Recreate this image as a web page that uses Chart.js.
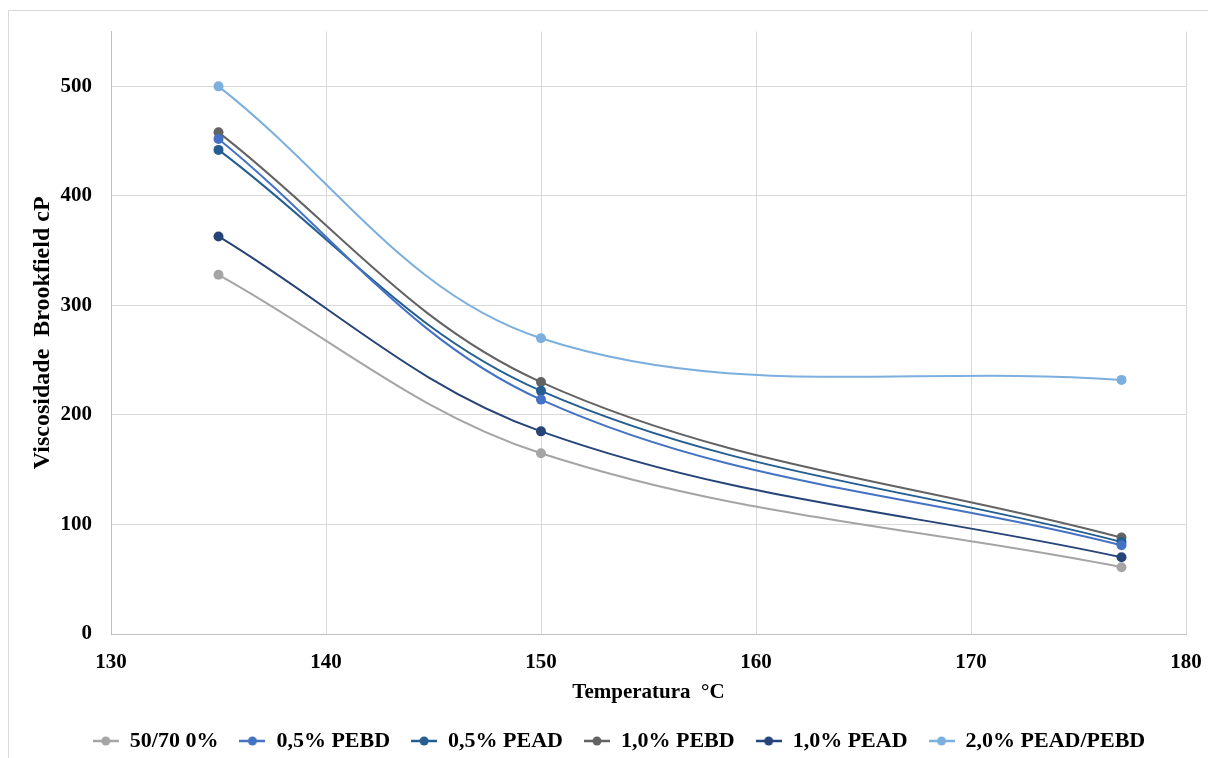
<!DOCTYPE html>
<html><head><meta charset="utf-8">
<script src="https://cdn.jsdelivr.net/npm/chart.js@4"></script>
<style>
html,body{margin:0;padding:0;background:#fff;}
#wrap{position:absolute;left:0;top:0;width:1208px;height:758px;}
#frame{position:absolute;left:8px;top:10px;width:1210px;height:760px;border:1px solid #d9d9d9;box-sizing:border-box;}
canvas{position:absolute;left:0;top:0;}
</style></head><body>
<div id="wrap"><div id="frame"></div><canvas id="c" width="1208" height="758"></canvas></div>
<script>
const temperatures = [135, 150, 177];
const seriesNames = ["50/70 0%", "0,5% PEBD", "0,5% PEAD", "1,0% PEBD", "1,0% PEAD", "2,0% PEAD/PEBD"];
const s5070 = [328, 165, 61];
const pebd05 = [452, 214, 81];
const pead05 = [442, 222, 84];
const pebd10 = [458, 230, 88];
const pead10 = [363, 185, 70];
const mix20 = [500, 270, 232];
const xTicks = [130, 140, 150, 160, 170, 180];
const yTicks = [0, 100, 200, 300, 400, 500];
const colors = ["#A5A5A5", "#4472C4", "#255E91", "#636363", "#264478", "#7CAFDD"];
const allSeries = [s5070, pebd05, pead05, pebd10, pead10, mix20];

function legendIcon(col){
  const cv = document.createElement('canvas');
  cv.width = 26; cv.height = 12;
  const g = cv.getContext('2d');
  g.strokeStyle = col; g.lineWidth = 2.5;
  g.beginPath(); g.moveTo(0,6); g.lineTo(26,6); g.stroke();
  g.fillStyle = col; g.beginPath(); g.arc(13,6,4.5,0,Math.PI*2); g.fill();
  return cv;
}
const icons = colors.map(legendIcon);

const FONT = "'Liberation Serif','Times New Roman',serif";
const datasets = allSeries.map((arr,i)=>({
  label: seriesNames[i],
  data: arr.map((v,j)=>({x: temperatures[j], y: v})),
  borderColor: colors[i],
  backgroundColor: colors[i],
  borderWidth: 2,
  pointRadius: 5,
  pointHoverRadius: 5,
  pointBorderWidth: 0,
  tension: 0.36,
  fill: false
}));

const shiftLegend = {
  id: 'shiftLegend',
  afterLayout(chart){
    const lg = chart.legend;
    if (lg) { lg.top += 4; lg.bottom += 4; lg.left += 12; lg.right += 12; }
  }
};

new Chart(document.getElementById('c'), {
  type: 'line',
  data: { datasets },
  plugins: [shiftLegend],
  options: {
    responsive: false,
    animation: false,
    layout: { padding: { left: 28, right: 22, top: 31, bottom: 0 } },
    plugins: {
      tooltip: { enabled: false },
      legend: {
        position: 'bottom',
        labels: {
          usePointStyle: true,
          pointStyleWidth: 26,
          padding: 21,
          font: { family: FONT, size: 22, weight: 'bold' },
          color: '#000',
          generateLabels(chart){
            return chart.data.datasets.map((d,i)=>({
              text: d.label, pointStyle: icons[i], fillStyle: colors[i],
              strokeStyle: colors[i], lineWidth: 0, datasetIndex: i, hidden: false, fontColor: '#000'
            }));
          }
        }
      }
    },
    scales: {
      x: {
        type: 'linear', min: 130, max: 180,
        afterBuildTicks(s){ s.ticks = xTicks.map(v=>({value:v})); },
        afterFit(s){
          const lh = s.chart.legend ? s.chart.legend.height : 40;
          s.height = 758 - 634 - lh;
          s.paddingRight = 0; s.paddingLeft = 0;
        },
        grid: { color: '#D9D9D9', lineWidth: 1, drawTicks: false },
        border: { color: '#BFBFBF', width: 1 },
        ticks: { padding: 16, color: '#000', font: { family: FONT, size: 21, weight: 'bold' }, maxRotation: 0 },
        title: { display: true, text: 'Temperatura  °C', color: '#000', font: { family: FONT, size: 21, weight: 'bold' }, padding: { top: 0, bottom: 0 } }
      },
      y: {
        type: 'linear', min: 0, max: 550,
        afterBuildTicks(s){ s.ticks = yTicks.map(v=>({value:v})); },
        afterFit(s){ s.width = 83; },
        grid: { color: '#D9D9D9', lineWidth: 1, drawTicks: false },
        border: { color: '#BFBFBF', width: 1 },
        ticks: { padding: 19, color: '#000', font: { family: FONT, size: 21, weight: 'bold' } },
        title: { display: true, text: 'Viscosidade  Brookfield cP', color: '#000', font: { family: FONT, size: 24, weight: 'bold' }, padding: { top: 0, bottom: 0 } }
      }
    }
  }
});
</script>
</body></html>
